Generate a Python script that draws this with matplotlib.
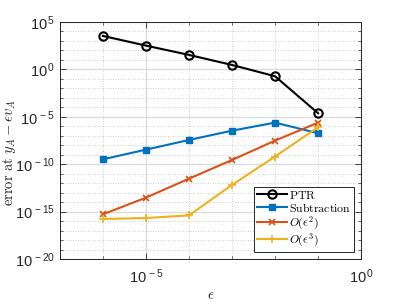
"""Error at y_A - eps*v_A against eps, log-log."""

import math

import matplotlib

matplotlib.use("Agg")
import matplotlib.pyplot as plt
from matplotlib.font_manager import FontProperties
from matplotlib.ticker import FixedLocator, FuncFormatter, NullFormatter

eps = [1e-6, 1e-5, 1e-4, 1e-3, 1e-2, 1e-1]
err_ptr = [10**3.52, 10**2.5, 10**1.52, 10**0.46, 10**-0.73, 10**-4.63]
err_sub = [10**-9.49, 10**-8.47, 10**-7.45, 10**-6.47, 10**-5.62, 10**-6.74]
err_o2 = [10**-15.29, 10**-13.53, 10**-11.53, 10**-9.56, 10**-7.52, 10**-5.62]
err_o3 = [10**-15.78, 10**-15.68, 10**-15.4, 10**-12.19, 10**-9.2, 10**-6.1]

series_labels = [r"$\mathrm{PTR}$", r"$\mathrm{Subtraction}$", r"$O(\epsilon^2)$", r"$O(\epsilon^3)$"]
x_major = [1e-5, 1e0]
y_major = [1e-20, 1e-15, 1e-10, 1e-5, 1e0, 1e5]

plt.rcParams["font.family"] = ["Liberation Sans", "DejaVu Sans"]
plt.rcParams["mathtext.fontset"] = "custom"
plt.rcParams["mathtext.rm"] = "Liberation Sans"
plt.rcParams["mathtext.it"] = "Liberation Sans:italic"

dark = "#262626"
fig = plt.figure(figsize=(3.99, 3.04), dpi=100)
ax = fig.add_axes([0.150, 0.148, 0.755, 0.780])

styles = [
    dict(color="black", marker="o", ms=6, mfc="none", mew=1.5),
    dict(color="#0072BD", marker="s", ms=4.5, mfc="#0072BD", mew=1.0),
    dict(color="#D95319", marker="x", ms=4.5, mew=1.2),
    dict(color="#EDB120", marker="+", ms=5.5, mew=1.2),
]
for ys, lab, st in zip([err_ptr, err_sub, err_o2, err_o3], series_labels, styles):
    ax.plot(eps, ys, lw=1.5, label=lab, **st)

ax.set_xscale("log")
ax.set_yscale("log")
ax.set_xlim(1e-7, 1e0)
ax.set_ylim(1e-20, 1e5)

ax.xaxis.set_major_locator(FixedLocator(x_major))
ax.xaxis.set_minor_locator(FixedLocator([10.0**k for k in range(-7, 1) if 10.0**k not in x_major]))
ax.yaxis.set_major_locator(FixedLocator(y_major))
ax.yaxis.set_minor_locator(FixedLocator([10.0**k for k in range(-20, 6) if k % 5 != 0]))


def _fmt(v, _pos):
    e = int(round(math.log10(v)))
    return r"$10^{\,%d}$" % e


ax.xaxis.set_major_formatter(FuncFormatter(_fmt))
ax.yaxis.set_major_formatter(FuncFormatter(_fmt))
ax.xaxis.set_minor_formatter(NullFormatter())
ax.yaxis.set_minor_formatter(NullFormatter())

ax.grid(True, which="major", color="#dcdcdc", lw=1.0, ls="-")
ax.grid(True, which="minor", color="#c0c0c0", lw=0.6, ls=(0, (1, 2)))
ax.set_axisbelow(True)
ax.tick_params(which="both", direction="in", top=True, right=True, colors=dark, labelsize=10.5)
ax.tick_params(axis="x", which="major", pad=6)
ax.tick_params(which="major", length=4, width=0.6)
ax.tick_params(which="minor", length=2.5, width=0.5)
for sp in ax.spines.values():
    sp.set_color(dark)
    sp.set_linewidth(0.7)

ax.set_xlabel(r"$\epsilon$", math_fontfamily="cm", fontsize=11, color=dark)
ax.xaxis.set_label_coords(0.5, -0.125)
ax.set_ylabel(r"$\mathrm{error\ at\ }y_A-\epsilon v_A$", math_fontfamily="cm", fontsize=10.5, color=dark)
ax.yaxis.set_label_coords(-0.14, 0.45)

leg = ax.legend(loc="lower right", prop=FontProperties(size=8.5, math_fontfamily="cm"),
                fancybox=False, framealpha=1, edgecolor=dark, borderpad=0.25,
                labelspacing=0.0, handlelength=2.5, handletextpad=0.2, borderaxespad=0.6)
leg.get_frame().set_linewidth(0.7)

fig.savefig("out.png", dpi=100)
